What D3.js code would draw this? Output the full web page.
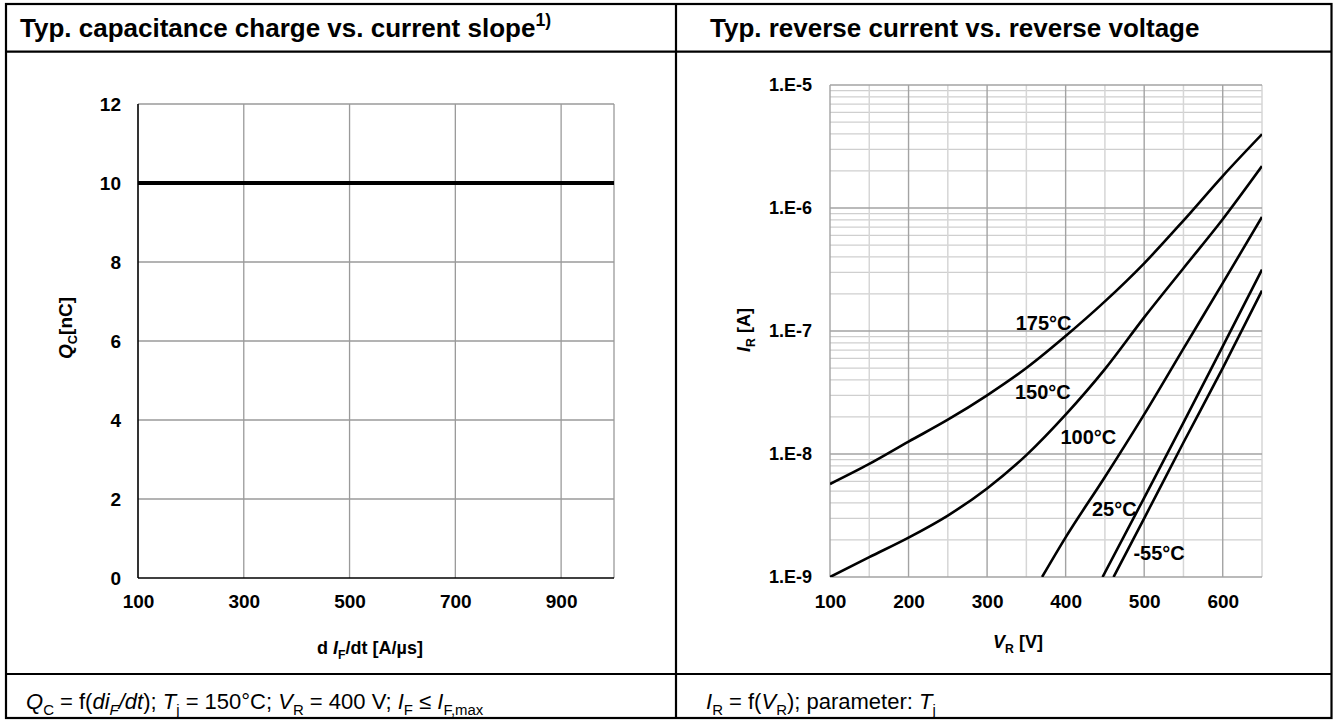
<!DOCTYPE html>
<html>
<head>
<meta charset="utf-8">
<script src="https://cdn.jsdelivr.net/npm/d3@7"></script>
<style>
  body { margin: 0; background: #fff; }
  text { font-family: "Liberation Sans", Arial, Helvetica, sans-serif; fill: #000; }
</style>
</head>
<body>
<svg id="chart" width="1333" height="720"></svg>
<script>
// left chart: capacitance charge vs dI/dt
const slopeValues = [100, 1000];
const chargeValues = [10, 10];
const slopeTicks = [100, 300, 500, 700, 900];
const slopeGrid = [300, 500, 700, 900, 1000];
const chargeTicks = [0, 2, 4, 6, 8, 10, 12];

// right chart: reverse current vs reverse voltage, one pair per temperature
const vr175 = [100, 150, 200, 250, 300, 350, 400, 450, 500, 550, 600, 650];
const ir175 = [5.7e-9, 8.3e-9, 1.26e-8, 1.9e-8, 3.0e-8, 5.0e-8, 9.1e-8, 1.74e-7, 3.55e-7, 7.9e-7, 1.82e-6, 3.98e-6];
const vr150 = [100, 150, 200, 250, 300, 350, 400, 450, 500, 550, 600, 650];
const ir150 = [1.0e-9, 1.45e-9, 2.09e-9, 3.16e-9, 5.25e-9, 9.8e-9, 2.09e-8, 4.9e-8, 1.29e-7, 3.24e-7, 8.1e-7, 2.19e-6];
const vr100 = [370, 400, 450, 500, 550, 600, 650];
const ir100 = [1.0e-9, 2.1e-9, 6.5e-9, 2.1e-8, 7.2e-8, 2.45e-7, 8.45e-7];
const vr25 = [447, 500, 550, 600, 650];
const ir25 = [1.0e-9, 4.4e-9, 1.8e-8, 7.5e-8, 3.16e-7];
const vrM55 = [461, 500, 550, 600, 650];
const irM55 = [1.0e-9, 3.0e-9, 1.24e-8, 5.0e-8, 2.13e-7];

const tempLabels = ['175°C', '150°C', '100°C', '25°C', '-55°C'];
const labelV = [372, 371, 429, 462, 519];
const labelI = [1.16e-7, 3.19e-8, 1.37e-8, 3.57e-9, 1.57e-9];

const voltTicks = [100, 200, 300, 400, 500, 600];
const currentDecades = [1e-9, 1e-8, 1e-7, 1e-6, 1e-5];
const currentTickLabels = ['1.E-9', '1.E-8', '1.E-7', '1.E-6', '1.E-5'];

const svg = d3.select('#chart');

// write text with italic / subscript / superscript pieces
function rich(sel, parts, size) {
  let cur = 0;
  parts.forEach((p) => {
    const target = p.sub ? size * 0.28 : p.sup ? -size * 0.42 : 0;
    const ts = sel.append('tspan').text(p.t).attr('dy', target - cur);
    cur = target;
    if (p.sub || p.sup) ts.attr('font-size', size * 0.68);
    if (p.i) ts.attr('font-style', 'italic');
  });
}

// ---- table frame ----
const frame = svg.append('g').attr('stroke', '#000').attr('stroke-width', 2.2).attr('fill', 'none');
frame.append('rect').attr('x', 6).attr('y', 4).attr('width', 1325.5).attr('height', 714);
frame.append('line').attr('x1', 6).attr('x2', 1331.5).attr('y1', 51.7).attr('y2', 51.7);
frame.append('line').attr('x1', 6).attr('x2', 1331.5).attr('y1', 674).attr('y2', 674);
frame.append('line').attr('x1', 676).attr('x2', 676).attr('y1', 4).attr('y2', 718);

const titleL = svg.append('text').attr('x', 20).attr('y', 37)
  .attr('font-size', 26).attr('font-weight', 'bold');
rich(titleL, [{ t: 'Typ. capacitance charge vs. current slope' }, { t: '1)', sup: true }], 26);

svg.append('text').attr('x', 710).attr('y', 37)
  .attr('font-size', 26).attr('font-weight', 'bold')
  .text('Typ. reverse current vs. reverse voltage');

const footL = svg.append('text').attr('x', 26).attr('y', 709).attr('font-size', 22);
rich(footL, [
  { t: 'Q', i: true }, { t: 'C', sub: true }, { t: ' = f(' }, { t: 'di', i: true }, { t: 'F', sub: true, i: true },
  { t: '/dt', i: true }, { t: ');  ' }, { t: 'T', i: true }, { t: 'j', sub: true }, { t: ' = 150°C;  ' },
  { t: 'V', i: true }, { t: 'R', sub: true }, { t: ' = 400 V;  ' }, { t: 'I', i: true }, { t: 'F', sub: true },
  { t: ' ≤  ' }, { t: 'I', i: true }, { t: 'F,max', sub: true }
], 22);

const footR = svg.append('text').attr('x', 706).attr('y', 709).attr('font-size', 22);
rich(footR, [
  { t: 'I', i: true }, { t: 'R', sub: true }, { t: ' = f(' }, { t: 'V', i: true }, { t: 'R', sub: true },
  { t: '); parameter:  ' }, { t: 'T', i: true }, { t: 'j', sub: true }
], 22);

// ---- left chart ----
const xL = d3.scaleLinear().domain([100, 1000]).range([138, 614]);
const yL = d3.scaleLinear().domain([0, 12]).range([578, 104]);
const gL = svg.append('g');

gL.selectAll('.vg').data(slopeGrid).join('line')
  .attr('x1', (d) => xL(d)).attr('x2', (d) => xL(d))
  .attr('y1', yL(0)).attr('y2', yL(12))
  .attr('stroke', '#9a9a9a').attr('stroke-width', 1.3);
gL.selectAll('.hg').data(chargeTicks.slice(1)).join('line')
  .attr('x1', xL(100)).attr('x2', xL(1000))
  .attr('y1', (d) => yL(d)).attr('y2', (d) => yL(d))
  .attr('stroke', '#9a9a9a').attr('stroke-width', 1.3);
gL.append('line').attr('x1', xL(100)).attr('x2', xL(100)).attr('y1', yL(0)).attr('y2', yL(12))
  .attr('stroke', '#000').attr('stroke-width', 1.6);
gL.append('line').attr('x1', xL(100)).attr('x2', xL(1000)).attr('y1', yL(0)).attr('y2', yL(0))
  .attr('stroke', '#000').attr('stroke-width', 1.6);

gL.append('path')
  .datum(slopeValues.map((v, i) => [v, chargeValues[i]]))
  .attr('d', d3.line().x((d) => xL(d[0])).y((d) => yL(d[1])))
  .attr('fill', 'none').attr('stroke', '#000').attr('stroke-width', 4.2);

gL.append('g').attr('transform', `translate(0,${yL(0)})`)
  .call(d3.axisBottom(xL).tickValues(slopeTicks).tickSize(0).tickPadding(17))
  .call((g) => g.select('.domain').remove())
  .selectAll('text').attr('font-size', 19).attr('font-weight', 'bold')
  .attr('font-family', '"Liberation Sans", Arial, sans-serif');
gL.append('g').attr('transform', `translate(${xL(100)},0)`)
  .call(d3.axisLeft(yL).tickValues(chargeTicks).tickSize(0).tickPadding(17))
  .call((g) => g.select('.domain').remove())
  .selectAll('text').attr('font-size', 19).attr('font-weight', 'bold')
  .attr('font-family', '"Liberation Sans", Arial, sans-serif');

const xtL = gL.append('text').attr('x', 370).attr('y', 654)
  .attr('text-anchor', 'middle').attr('font-size', 18).attr('font-weight', 'bold');
rich(xtL, [{ t: 'd ' }, { t: 'I', i: true }, { t: 'F', sub: true }, { t: '/dt [A/µs]' }], 18);

const ytL = gL.append('text').attr('transform', 'translate(72,328) rotate(-90)')
  .attr('text-anchor', 'middle').attr('font-size', 19).attr('font-weight', 'bold');
rich(ytL, [{ t: 'Q', i: true }, { t: 'C', sub: true }, { t: '[nC]' }], 19);

// ---- right chart ----
const xR = d3.scaleLinear().domain([100, 650]).range([830, 1262]);
const yR = d3.scaleLog().domain([1e-9, 1e-5]).range([577, 85]);
const gR = svg.append('g');

const minorY = yR.ticks().filter((d) => !currentDecades.some((c) => Math.abs(c - d) / c < 1e-6));
gR.selectAll('.my').data(minorY).join('line')
  .attr('x1', xR(100)).attr('x2', xR(650))
  .attr('y1', (d) => yR(d)).attr('y2', (d) => yR(d))
  .attr('stroke', '#cfcfcf').attr('stroke-width', 1.3);
const voltGrid = d3.range(150, 651, 100);
gR.selectAll('.mx').data(voltGrid).join('line')
  .attr('x1', (d) => xR(d)).attr('x2', (d) => xR(d))
  .attr('y1', yR(1e-9)).attr('y2', yR(1e-5))
  .attr('stroke', '#d6d6d6').attr('stroke-width', 1.5);
gR.selectAll('.Mx').data(voltTicks).join('line')
  .attr('x1', (d) => xR(d)).attr('x2', (d) => xR(d))
  .attr('y1', yR(1e-9)).attr('y2', yR(1e-5))
  .attr('stroke', '#a3a3a3').attr('stroke-width', 1.4);
gR.selectAll('.My').data(currentDecades).join('line')
  .attr('x1', xR(100)).attr('x2', xR(650))
  .attr('y1', (d) => yR(d)).attr('y2', (d) => yR(d))
  .attr('stroke', '#a3a3a3').attr('stroke-width', 1.4);

svg.append('clipPath').attr('id', 'clipR').append('rect')
  .attr('x', xR(100)).attr('y', yR(1e-5))
  .attr('width', xR(650) - xR(100)).attr('height', yR(1e-9) - yR(1e-5));

const curves = [[vr175, ir175], [vr150, ir150], [vr100, ir100], [vr25, ir25], [vrM55, irM55]];
const lineR = d3.line().x((d) => xR(d[0])).y((d) => yR(d[1])).curve(d3.curveMonotoneX);
gR.append('g').attr('clip-path', 'url(#clipR)')
  .selectAll('path').data(curves.map(([v, c]) => v.map((x, i) => [x, c[i]]))).join('path')
  .attr('d', lineR)
  .attr('fill', 'none').attr('stroke', '#000').attr('stroke-width', 2.6);

gR.selectAll('.lbl').data(tempLabels).join('text')
  .attr('x', (d, i) => xR(labelV[i])).attr('y', (d, i) => yR(labelI[i]))
  .attr('text-anchor', 'middle').attr('dominant-baseline', 'central')
  .attr('font-size', 20).attr('font-weight', 'bold')
  .text((d) => d);

gR.append('g').attr('transform', `translate(0,${yR(1e-9)})`)
  .call(d3.axisBottom(xR).tickValues(voltTicks).tickSize(0).tickPadding(18))
  .call((g) => g.select('.domain').remove())
  .selectAll('text').attr('font-size', 19).attr('font-weight', 'bold')
  .attr('font-family', '"Liberation Sans", Arial, sans-serif');
gR.append('g').attr('transform', `translate(${xR(100)},0)`)
  .call(d3.axisLeft(yR).tickValues(currentDecades).tickFormat((d, i) => currentTickLabels[i]).tickSize(0).tickPadding(18))
  .call((g) => g.select('.domain').remove())
  .selectAll('text').attr('font-size', 18).attr('font-weight', 'bold')
  .attr('font-family', '"Liberation Sans", Arial, sans-serif');

const xtR = gR.append('text').attr('x', 1018).attr('y', 648)
  .attr('text-anchor', 'middle').attr('font-size', 18).attr('font-weight', 'bold');
rich(xtR, [{ t: 'V', i: true }, { t: 'R', sub: true }, { t: ' [V]' }], 18);

const ytR = gR.append('text').attr('transform', 'translate(750,330) rotate(-90)')
  .attr('text-anchor', 'middle').attr('font-size', 18).attr('font-weight', 'bold');
rich(ytR, [{ t: 'I', i: true }, { t: 'R', sub: true }, { t: ' [A]' }], 18);
</script>
</body>
</html>
